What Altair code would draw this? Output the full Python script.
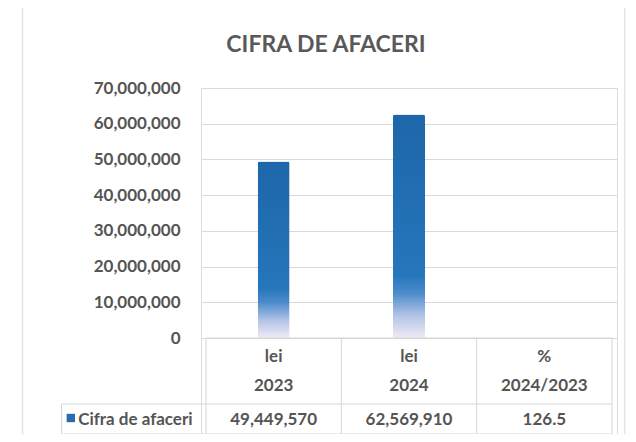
import altair as alt
import pandas as pd

# ---------------- data ----------------
title_text = "CIFRA DE AFACERI"
years = ["2023", "2024"]
values = [49449570, 62569910]
header_top = ["lei", "lei", "%"]
header_bottom = ["2023", "2024", "2024/2023"]
row_label = "Cifra de afaceri"
row_values = ["49,449,570", "62,569,910", "126.5"]
y_ticks = [0, 10000000, 20000000, 30000000, 40000000, 50000000, 60000000, 70000000]

# ---------------- layout ----------------
PLOT_W = 416          # plot area (table columns) width in px
PLOT_H = 346          # from 70M line down to bottom of table
Y_MAX = 70000000
VPP = Y_MAX / 250     # value per pixel (70M spans 250px)
Y_MIN = -96 * VPP     # table extends 96px below the zero line
COL_W = PLOT_W / 3
FONT = "Lato"
TXT = "#555555"
LINE = "#d6d6d6"


def xv(px):
    """pixel offset from plot left edge -> x units"""
    return px / COL_W


def yv(px):
    """pixel offset below zero line -> y units"""
    return -px * VPP


x_scale = alt.Scale(domain=[0, 3], nice=False, zero=False)
y_scale = alt.Scale(domain=[Y_MIN, Y_MAX], nice=False, zero=False)

# bars
bars_df = pd.DataFrame({
    "year": years,
    "col": [i + 0.5 for i in range(len(years))],
    "value": values,
})

grad = alt.Gradient(
    gradient="linear",
    stops=[
        alt.GradientStop(color="#1d66a9", offset=0),
        alt.GradientStop(color="#2676bb", offset=0.72),
        alt.GradientStop(color="#4d8ccc", offset=0.8),
        alt.GradientStop(color="#b3c3e6", offset=0.9),
        alt.GradientStop(color="#efebf6", offset=1),
    ],
    x1=0, x2=0, y1=0, y2=1,
)

bars = alt.Chart(bars_df).mark_bar(size=32, color=grad, cornerRadiusTopLeft=2,
                                   cornerRadiusTopRight=2).encode(
    x=alt.X("col:Q", scale=x_scale, axis=None),
    y=alt.Y("value:Q", scale=y_scale,
            axis=alt.Axis(values=y_ticks, format=",d", grid=True, gridColor="#d9d9d9",
                          domain=False, ticks=False, labelPadding=21, labelFont=FONT,
                          labelFontSize=17, labelFontWeight="bold", labelColor=TXT,
                          title=None)),
)

# table lines
leg_x = xv(53 - 201)
sep_y = yv(66)
segs = [
    (0, 3, 0, 0),
    (leg_x, 3, sep_y, sep_y),
    (leg_x, 3, Y_MIN, Y_MIN),
    (leg_x, leg_x, sep_y, Y_MIN),
]
for c in range(4):
    segs.append((c, c, 0, Y_MIN))
lines_df = pd.DataFrame(segs, columns=["x", "x2", "y", "y2"])
table_lines = alt.Chart(lines_df).mark_rule(color=LINE, strokeWidth=1).encode(
    x=alt.X("x:Q", scale=x_scale), x2="x2:Q",
    y=alt.Y("y:Q", scale=y_scale), y2="y2:Q",
)

# outer frame (faint)
frame_df = pd.DataFrame({
    "x": [xv(13 - 201), xv(630 - 201)],
    "y": [(338 - 4) * VPP, (338 - 4) * VPP],
    "y2": [yv(440 - 338), yv(440 - 338)],
})
frame = alt.Chart(frame_df).mark_rule(color="#e4e4e4", strokeWidth=1.5).encode(
    x=alt.X("x:Q", scale=x_scale), y=alt.Y("y:Q", scale=y_scale), y2="y2:Q",
)

# table texts
txt_rows = []
for i in range(3):
    txt_rows.append({"x": i + 0.5, "y": yv(19), "t": header_top[i]})
    txt_rows.append({"x": i + 0.5, "y": yv(48), "t": header_bottom[i]})
    txt_rows.append({"x": i + 0.5, "y": yv(82), "t": row_values[i]})
txt_df = pd.DataFrame(txt_rows)
table_text = alt.Chart(txt_df).mark_text(font=FONT, fontSize=17, fontWeight="bold",
                                         color=TXT, align="center", baseline="middle").encode(
    x=alt.X("x:Q", scale=x_scale), y=alt.Y("y:Q", scale=y_scale), text="t:N",
)

# legend key + row label
leg_df = pd.DataFrame({"x": [xv(62.5 - 201)], "y": [yv(80)], "t": [row_label],
                       "tx": [xv(70 - 201)], "ty": [yv(82)]})
leg_key = alt.Chart(leg_df).mark_square(size=70, color="#2a6aae", opacity=1,
                                        cornerRadius=2).encode(
    x=alt.X("x:Q", scale=x_scale), y=alt.Y("y:Q", scale=y_scale),
)
leg_text = alt.Chart(leg_df).mark_text(font=FONT, fontSize=17, fontWeight="bold",
                                       color=TXT, align="left", baseline="middle").encode(
    x=alt.X("tx:Q", scale=x_scale), y=alt.Y("ty:Q", scale=y_scale), text="t:N",
)

chart = alt.layer(bars, frame, table_lines, table_text, leg_key, leg_text).properties(
    width=PLOT_W,
    height=PLOT_H,
    title=alt.TitleParams(title_text, font=FONT, fontSize=23, fontWeight="bold",
                          color="#595959", anchor="middle", dx=-83, offset=-54),
    autosize=alt.AutoSizeParams(type="none"),
    padding={"left": 193, "top": 80, "right": 11, "bottom": 0},
).configure_view(stroke=None).configure(background="white")

chart.save("out.html", embed_options={"renderer": "svg", "actions": False})
